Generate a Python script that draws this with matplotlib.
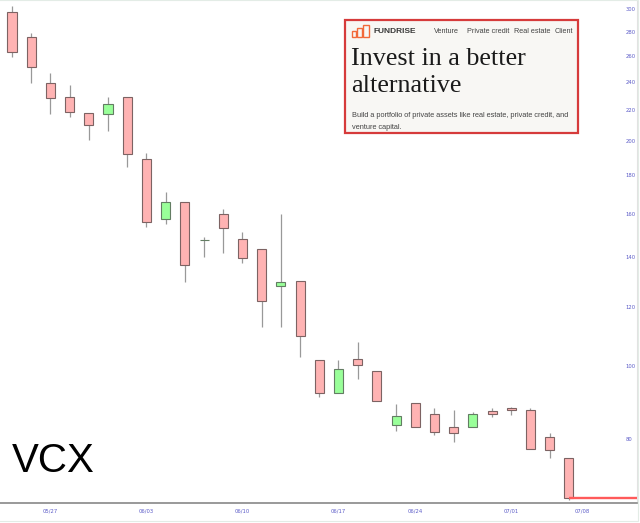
import numpy as np
import matplotlib.pyplot as plt
from matplotlib.patches import Rectangle
from matplotlib.ticker import FixedLocator, NullLocator

# daily candles, oldest first
opens = [297.4, 275.4, 239.1, 229.0, 218.0, 217.3, 229.0, 189.3, 157.4, 165.8,
         147.3, 159.8, 148.0, 143.5, 128.1, 130.0, 102.0, 92.2, 102.3, 98.6,
         83.5, 89.4, 86.4, 83.0, 83.0, 87.2, 88.0, 87.5, 80.5, 75.5]
highs = [302.9, 278.8, 246.5, 237.6, 218.0, 229.0, 229.0, 192.8, 171.0, 165.8,
         148.9, 162.3, 151.2, 143.5, 159.8, 130.0, 102.0, 102.0, 107.8, 98.6,
         89.1, 89.4, 88.0, 87.5, 86.9, 88.0, 88.3, 88.0, 81.5, 75.5]
lows = [259.0, 239.1, 217.3, 215.3, 200.6, 206.3, 184.6, 153.5, 155.0, 129.6,
        140.0, 141.7, 137.4, 112.9, 112.9, 102.9, 91.0, 92.2, 96.2, 89.9,
        82.0, 83.0, 81.0, 79.3, 83.0, 85.6, 86.1, 77.6, 75.5, 66.3]
closes = [263.0, 251.1, 228.3, 218.7, 210.1, 224.1, 192.2, 155.9, 165.8, 136.6,
          147.7, 153.1, 139.6, 122.3, 129.6, 109.8, 92.2, 99.2, 100.4, 89.9,
          85.9, 83.0, 81.7, 81.5, 86.4, 86.4, 87.5, 77.6, 77.3, 66.7]

y_ticks = [80, 100, 120, 140, 160, 180, 200, 220, 240, 260, 280, 300]
date_labels = ["05/27", "06/03", "06/10", "06/17", "06/24", "07/01", "07/08"]
date_pos = [2, 7, 12, 17, 21, 26, 29.7]

W, H = 640, 523
fig = plt.figure(figsize=(W / 100, H / 100), dpi=100)
fig.patch.set_facecolor("white")


def fx(px):
    return px / W


def fy(py):
    return 1 - py / H


ax = fig.add_axes([0, fy(503), fx(637), 503 / H])
ax.set_yscale("log")

x = np.arange(len(opens))
o = np.array(opens)
c = np.array(closes)
up = c >= o
body_lo = np.minimum(o, c)
body_h = np.maximum(np.abs(c - o), 0.3)

ax.vlines(x, lows, highs, color="#999999", linewidth=0.9, zorder=1)
ax.bar(x[~up], body_h[~up], bottom=body_lo[~up], width=0.47,
       color="#ffb3b3", edgecolor="#7d6363", linewidth=0.8, zorder=2)
ax.bar(x[up], body_h[up], bottom=body_lo[up], width=0.47,
       color="#99ff99", edgecolor="#637d63", linewidth=0.8, zorder=2)

# last price line
ax.hlines(closes[-1], x[-1], 33, color="#ff5a5a", linewidth=1.7, zorder=3)

ax.set_xlim(-0.625, 32.55)
ax.set_ylim(65.7, 308.6)

ax.yaxis.tick_right()
ax.yaxis.set_major_locator(FixedLocator(y_ticks))
ax.yaxis.set_minor_locator(NullLocator())
ax.set_yticklabels([str(v) for v in y_ticks])
ax.tick_params(axis="y", length=0, pad=-8, labelsize=3.8, labelcolor="#5b5bc8")

ax.set_xticks(date_pos)
ax.set_xticklabels(date_labels)
ax.tick_params(axis="x", length=0, pad=4, labelsize=3.8, labelcolor="#5b5bc8")

for s in ["top", "left"]:
    ax.spines[s].set_visible(False)
ax.spines["bottom"].set_color("#888888")
ax.spines["bottom"].set_linewidth(1.2)
ax.spines["right"].set_color("#e2e2e2")
ax.spines["right"].set_linewidth(0.8)

# outer frame of the chart panel
fig.add_artist(Rectangle((fx(-2), fy(521)), fx(640), 521 / H, transform=fig.transFigure,
                         fill=False, edgecolor="#e3ece6", linewidth=0.8))

fig.text(fx(12), fy(461), "VCX", fontsize=29, family="Liberation Sans",
         va="center", ha="left", color="black")

# ad box
fig.add_artist(Rectangle((fx(345), fy(133)), fx(578 - 345), (133 - 20) / H,
                         transform=fig.transFigure, facecolor="#f8f7f4",
                         edgecolor="#d63b3b", linewidth=1.6, zorder=5))
logo = [(352, 31, 4, 6), (357, 28, 5, 9), (363, 25, 6, 12)]
for lx, ly, lw, lh in logo:
    fig.add_artist(Rectangle((fx(lx), fy(ly + lh)), fx(lw), lh / H,
                             transform=fig.transFigure, facecolor="none",
                             edgecolor="#f2693a", linewidth=1.0, zorder=6))
fig.text(fx(374), fy(31.5), "FUNDRISE", fontsize=6, weight="bold",
         family="Liberation Sans", color="#3a3a3a", va="center", zorder=6)
for label, px in [("Venture", 434), ("Private credit", 467),
                  ("Real estate", 514), ("Client", 555)]:
    fig.text(fx(px), fy(31.5), label, fontsize=5.2, family="Liberation Sans",
             color="#444444", va="center", zorder=6)
fig.text(fx(351), fy(65), "Invest in a better", fontsize=18.8,
         family="Liberation Serif", color="#1a1a1a", va="baseline", zorder=6)
fig.text(fx(351), fy(92), "alternative", fontsize=18.8,
         family="Liberation Serif", color="#1a1a1a", va="baseline", zorder=6)
fig.text(fx(352), fy(115.5),
         "Build a portfolio of private assets like real estate, private credit, and",
         fontsize=5.3, family="Liberation Sans", color="#444444", va="center", zorder=6)
fig.text(fx(352), fy(127), "venture capital.", fontsize=5.3,
         family="Liberation Sans", color="#444444", va="center", zorder=6)

fig.savefig("out.png", dpi=100)
